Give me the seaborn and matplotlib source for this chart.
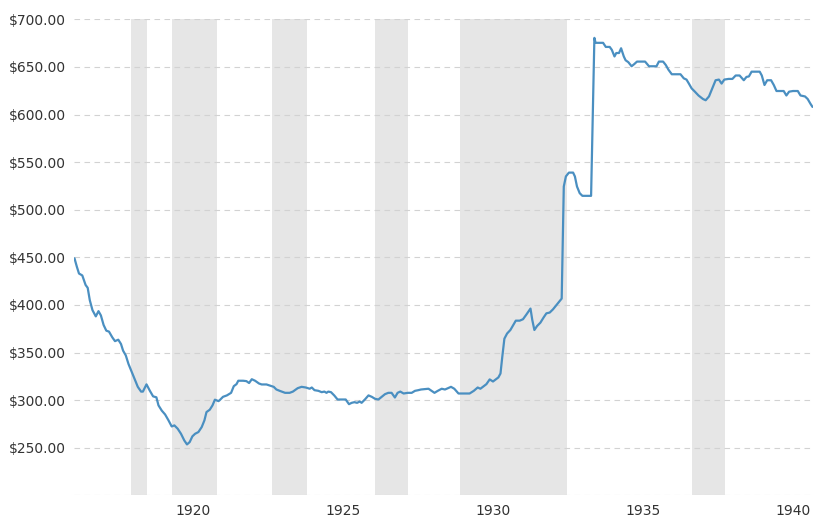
import matplotlib
matplotlib.use('Agg')
import matplotlib.pyplot as plt
import seaborn as sns
import pandas as pd

# Gold price (inflation adjusted)
years = [
    1916.05, 1916.13, 1916.20, 1916.31, 1916.42, 1916.49, 1916.56, 1916.65, 1916.76, 1916.85,
    1916.93, 1917.02, 1917.11, 1917.20, 1917.31, 1917.40, 1917.51, 1917.60, 1917.67, 1917.76,
    1917.85, 1917.96, 1918.07, 1918.16, 1918.27, 1918.33, 1918.45, 1918.56, 1918.67, 1918.78,
    1918.85, 1918.96, 1919.07, 1919.18, 1919.29, 1919.38, 1919.49, 1919.60, 1919.71, 1919.80,
    1919.89, 1919.98, 1920.07, 1920.18, 1920.29, 1920.38, 1920.45, 1920.56, 1920.65, 1920.73,
    1920.85, 1920.89, 1921.00, 1921.13, 1921.27, 1921.36, 1921.45, 1921.51, 1921.67, 1921.78,
    1921.87, 1921.96, 1922.07, 1922.20, 1922.29, 1922.45, 1922.56, 1922.69, 1922.78, 1922.89,
    1923.07, 1923.22, 1923.33, 1923.49, 1923.62, 1923.76, 1923.89, 1923.96, 1924.05, 1924.18,
    1924.29, 1924.38, 1924.45, 1924.51, 1924.60, 1924.71, 1924.82, 1924.96, 1925.09, 1925.20,
    1925.29, 1925.38, 1925.47, 1925.56, 1925.62, 1925.73, 1925.85, 1925.96, 1926.07, 1926.18,
    1926.29, 1926.40, 1926.51, 1926.62, 1926.73, 1926.82, 1926.91, 1927.02, 1927.16, 1927.29,
    1927.40, 1927.51, 1927.60, 1927.85, 1928.05, 1928.16, 1928.29, 1928.40, 1928.60, 1928.71,
    1928.85, 1929.11, 1929.22, 1929.36, 1929.49, 1929.58, 1929.69, 1929.78, 1929.89, 1930.00,
    1930.09, 1930.18, 1930.25, 1930.31, 1930.38, 1930.47, 1930.58, 1930.67, 1930.76, 1930.89,
    1931.00, 1931.11, 1931.25, 1931.31, 1931.38, 1931.47, 1931.58, 1931.69, 1931.78, 1931.89,
    1932.00, 1932.11, 1932.20, 1932.29, 1932.36, 1932.43, 1932.53, 1932.67, 1932.73, 1932.80,
    1932.89, 1932.98, 1933.11, 1933.27, 1933.38, 1933.42, 1933.56, 1933.67, 1933.76, 1933.89,
    1933.96, 1934.05, 1934.11, 1934.20, 1934.27, 1934.36, 1934.42, 1934.51, 1934.62, 1934.71,
    1934.80, 1934.93, 1935.07, 1935.20, 1935.33, 1935.45, 1935.53, 1935.67, 1935.76, 1935.85,
    1935.96, 1936.09, 1936.25, 1936.36, 1936.45, 1936.53, 1936.62, 1936.73, 1936.85, 1937.00,
    1937.09, 1937.20, 1937.31, 1937.42, 1937.53, 1937.62, 1937.71, 1937.85, 1937.98, 1938.09,
    1938.22, 1938.36, 1938.45, 1938.53, 1938.62, 1938.76, 1938.89, 1938.96, 1939.05, 1939.14,
    1939.27, 1939.36, 1939.45, 1939.56, 1939.69, 1939.78, 1939.87, 1940.00, 1940.16, 1940.25,
    1940.40, 1940.49, 1940.58, 1940.65,
]
price = [
    449, 440, 433, 431, 421, 418, 405, 394.5, 388, 393.5,
    389, 379, 373, 372, 366, 362, 363.5, 359, 352, 347,
    338, 329.6, 321, 314, 309, 309, 316.6, 310, 304, 303,
    294.5, 289, 285, 279, 272.4, 273.5, 270, 264.7, 257.7, 253.5,
    256, 262, 264.7, 266.5, 271.7, 278.7, 287.5, 290, 294.5, 300.5,
    299, 300, 303.5, 305, 307.7, 314.7, 316.8, 320.4, 320.4, 320,
    318, 322, 320.4, 317.5, 316.5, 316.5, 315.4, 314, 311.2, 309.8,
    307.7, 307.7, 309, 312.6, 314, 313.3, 312, 313.3, 310.5, 309.8,
    308.4, 309, 307.7, 309, 308.4, 304.9, 300.7, 300.7, 300.7, 295.8,
    297.2, 297.9, 297.2, 298.6, 297.2, 300.7, 305, 303.5, 301.4, 300.7,
    303.5, 306.3, 307.7, 307.7, 302.8, 307.7, 309, 307, 307.7, 307.7,
    309.8, 310.5, 311.2, 312, 307.7, 309.8, 312, 311.2, 314, 312,
    307, 307, 307, 309.8, 313.3, 312, 314.7, 316.8, 321.8, 319.6,
    321.8, 323.9, 328, 345.6, 364.6, 370, 373.7, 378.6, 383.5, 383.5,
    385, 389.8, 396.2, 384.2, 373.7, 377.9, 381.4, 387, 391.2, 392,
    395.4, 399.6, 403.2, 406.7, 524.4, 535, 539, 539, 535, 524.4,
    517.4, 514.6, 514.6, 514.6, 680.5, 675.3, 675.3, 675.3, 671, 671,
    668, 661, 664.6, 664.6, 669.6, 661, 657, 655, 650.7, 653,
    655.6, 655.6, 655.6, 650.7, 650.7, 650.7, 655.6, 655.6, 652, 647,
    642.3, 642.3, 642.3, 638, 636.7, 632.5, 627.5, 624, 620, 616.3,
    615, 619, 627.5, 636, 636.7, 632.5, 636.7, 637.4, 637.4, 641,
    641, 636, 639.5, 640, 645, 645, 645, 641, 631, 636,
    636, 631, 624.7, 624.7, 624.7, 620, 624, 624.7, 624.7, 620,
    619, 616.3, 611.4, 608,
]

# Recession periods (shaded bands)
rec_start = [1917.92, 1919.30, 1922.65, 1926.08, 1928.91, 1936.65]
rec_end = [1918.47, 1920.80, 1923.80, 1927.17, 1932.47, 1937.72]

x_ticks = [1920, 1925, 1930, 1935, 1940]
y_ticks = [200, 250, 300, 350, 400, 450, 500, 550, 600, 650, 700]

df = pd.DataFrame({'year': years, 'price': price})

sns.set_style('white')
plt.rcParams['font.family'] = ['DejaVu Sans']

fig = plt.figure(figsize=(8.21, 5.22), dpi=100)
ax = fig.add_axes([0.090, 0.051, 0.900, 0.912])

for s, e in zip(rec_start, rec_end):
    ax.axvspan(s, e, color='#e6e6e6', lw=0, zorder=0)

sns.lineplot(data=df, x='year', y='price', ax=ax, color='#4a8fc1',
             linewidth=1.6, estimator=None, sort=False, zorder=3)

ax.set_xlim(1916.03, 1940.66)
ax.set_ylim(200, 700)
ax.set_xticks(x_ticks)
ax.set_xticklabels([str(t) for t in x_ticks])
ax.set_yticks(y_ticks)
ax.set_yticklabels(['' if v == 200 else f'${v:.2f}' for v in y_ticks])

ax.grid(axis='y', color='#d2d2d2', linestyle=(0, (5, 4)), linewidth=0.8)
ax.grid(axis='x', visible=False)
ax.set_axisbelow(True)
for sp in ax.spines.values():
    sp.set_visible(False)

ax.tick_params(axis='both', length=0, labelsize=10, colors='#333333')
ax.tick_params(axis='y', pad=5.5)
ax.tick_params(axis='x', pad=6)
ax.set_xlabel('')
ax.set_ylabel('')

fig.savefig('out.png', dpi=100, facecolor='white')
